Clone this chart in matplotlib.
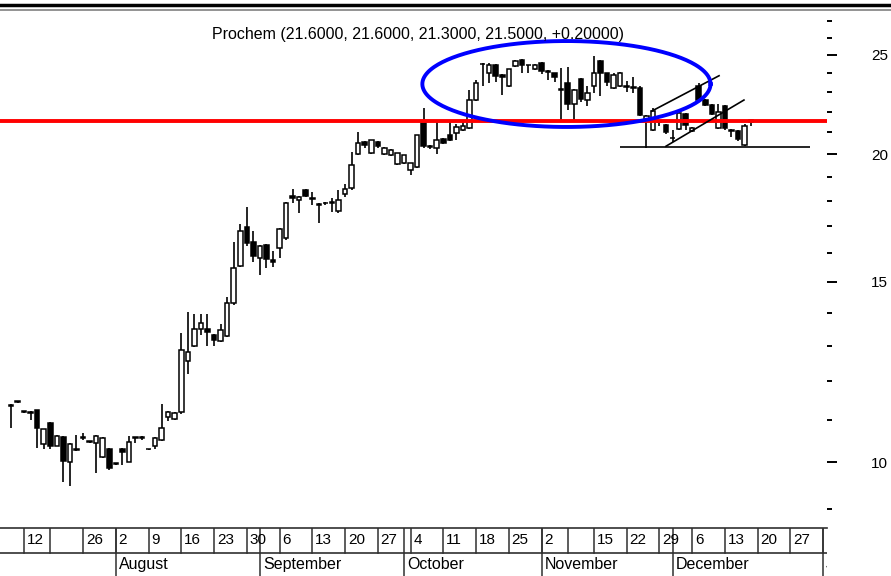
import numpy as np
import pandas as pd
import matplotlib
matplotlib.use("Agg")
import matplotlib.pyplot as plt
from matplotlib.ticker import FixedLocator, FixedFormatter, NullFormatter
from matplotlib.lines import Line2D

plt.rcParams['font.family'] = ['Liberation Sans', 'DejaVu Sans']

# -------------------------------
# 1. Data (Prochem daily OHLC, Jul 8 - Dec 17 2004)
# -------------------------------
first_day = '2004-07-08'
no_session = ['2004-07-16', '2004-11-01', '2004-11-11']

opens = [
    11.35, 11.45, 11.2, 11.2, 11.24, 10.41, 10.93, 10.38, 10.58, 10.0,
    10.3, 10.55, 10.47, 10.43, 10.12, 10.31, 9.98, 10.31, 10.01, 10.55,
    10.55, 10.3, 10.36, 10.5, 11.06, 11.03, 11.2, 12.55, 12.99, 13.5,
    13.5, 13.32, 13.13, 13.27, 14.3, 15.55, 16.97, 16.4, 15.83, 16.29,
    15.76, 16.18, 16.55, 18.22, 18.04, 18.43, 18.1, 17.87, 17.9, 17.95,
    17.6, 18.3, 18.52, 20.0, 20.55, 20.05, 20.57, 20.0, 19.96, 19.55,
    19.6, 19.3, 19.45, 21.5, 20.35, 20.3, 20.7, 20.87, 20.98, 21.1,
    21.2, 22.6, 24.5, 24.0, 24.45, 23.9, 23.3, 24.4, 24.72, 24.45,
    24.2, 24.55, 24.1, 24.0, 23.15, 23.45, 22.4, 23.7, 22.6, 23.3,
    24.67, 24.0, 23.2, 23.3, 23.3, 23.25, 23.2, 21.55, 21.1, 21.5,
    21.35, 20.75, 21.15, 21.9, 21.05, 23.3, 22.6, 22.35, 21.2, 22.3,
    21.1, 21.05, 20.4, 21.6]

highs = [
    11.4, 11.48, 11.22, 11.22, 11.25, 10.78, 10.95, 10.62, 10.6, 10.44,
    10.63, 10.68, 10.48, 10.62, 10.57, 10.33, 9.99, 10.33, 10.6, 10.56,
    10.6, 10.31, 10.58, 11.4, 11.22, 11.2, 13.36, 14.03, 13.97, 13.97,
    13.95, 13.35, 13.65, 14.5, 16.4, 17.1, 17.74, 16.84, 16.3, 16.32,
    16.1, 16.95, 17.95, 18.5, 18.2, 18.5, 18.35, 17.9, 17.95, 18.1,
    18.44, 18.72, 20.1, 21.0, 20.6, 20.66, 20.6, 20.32, 20.22, 20.07,
    19.96, 19.62, 20.9, 22.2, 20.4, 21.6, 20.75, 21.55, 21.4, 21.5,
    23.1, 23.63, 24.55, 24.55, 24.5, 23.95, 24.25, 24.7, 24.8, 24.47,
    24.5, 24.6, 24.15, 24.02, 24.3, 24.35, 23.15, 23.75, 23.3, 24.95,
    24.7, 24.02, 24.0, 24.05, 23.6, 23.8, 23.3, 21.85, 22.2, 21.6,
    21.4, 21.1, 22.05, 21.95, 21.25, 23.45, 22.65, 22.4, 22.4, 22.35,
    21.15, 21.1, 21.4, 21.6]

lows = [
    10.8, 11.42, 11.18, 10.99, 10.32, 10.3, 10.3, 10.36, 9.56, 9.48,
    10.25, 10.5, 10.44, 9.76, 10.1, 9.82, 9.94, 9.94, 10.0, 10.45,
    10.5, 10.27, 10.29, 10.48, 10.96, 11.0, 11.15, 12.2, 12.97, 13.3,
    13.0, 13.0, 13.1, 13.25, 14.25, 15.5, 16.25, 15.7, 15.23, 15.47,
    15.52, 15.82, 16.5, 17.9, 17.5, 18.15, 17.83, 17.14, 17.85, 17.57,
    17.5, 18.17, 18.45, 19.95, 20.3, 20.0, 20.3, 19.98, 19.9, 19.5,
    19.55, 19.1, 19.4, 20.3, 20.25, 20.0, 20.45, 20.6, 20.64, 21.05,
    21.15, 22.55, 23.3, 23.45, 23.55, 22.85, 23.25, 24.35, 24.0, 24.0,
    24.15, 23.95, 23.63, 23.5, 21.6, 22.1, 21.6, 22.5, 22.3, 22.95,
    22.8, 23.3, 23.15, 23.25, 23.0, 22.95, 21.8, 20.3, 21.05, 21.3,
    20.95, 20.55, 21.1, 21.1, 21.0, 22.55, 22.3, 21.85, 21.15, 21.1,
    20.8, 20.6, 20.35, 21.3]

closes = [
    11.38, 11.46, 11.2, 11.18, 10.8, 10.77, 10.37, 10.6, 10.03, 10.42,
    10.28, 10.57, 10.46, 10.6, 10.56, 9.86, 9.96, 10.22, 10.46, 10.55,
    10.56, 10.29, 10.56, 10.8, 11.2, 11.18, 12.87, 12.82, 13.5, 13.68,
    13.41, 13.15, 13.47, 14.3, 15.49, 16.84, 16.37, 15.89, 16.26, 15.8,
    15.7, 16.9, 17.9, 18.1, 18.18, 18.22, 18.08, 17.85, 17.93, 17.93,
    18.05, 18.5, 19.5, 20.5, 20.4, 20.64, 20.35, 20.3, 20.2, 20.05,
    19.94, 19.6, 20.87, 20.35, 20.33, 20.64, 20.5, 20.67, 21.24, 21.3,
    22.6, 23.45, 24.5, 24.45, 23.85, 23.8, 24.2, 24.65, 24.44, 24.44,
    24.45, 24.1, 24.08, 23.8, 23.12, 22.4, 23.1, 22.65, 22.95, 24.0,
    24.0, 23.5, 23.9, 24.0, 23.28, 23.22, 21.85, 21.8, 22.05, 21.48,
    21.0, 20.73, 21.95, 21.35, 21.23, 22.6, 22.35, 21.9, 22.0, 21.2,
    21.08, 20.7, 21.3, 21.5]

# axis labels
week_dates = ['2004-07-12', '2004-07-19', '2004-07-26', '2004-08-02', '2004-08-09',
              '2004-08-16', '2004-08-23', '2004-08-30', '2004-09-06', '2004-09-13',
              '2004-09-20', '2004-09-27', '2004-10-04', '2004-10-11', '2004-10-18',
              '2004-10-25', '2004-11-02', '2004-11-08', '2004-11-15', '2004-11-22',
              '2004-11-29', '2004-12-06', '2004-12-13', '2004-12-20', '2004-12-27',
              '2005-01-03']
week_text = ['12', '', '26', '2', '9', '16', '23', '30', '6', '13', '20', '27', '4',
             '11', '18', '25', '2', '', '15', '22', '29', '6', '13', '20', '27', '3']
month_dates = ['2004-08-02', '2004-09-01', '2004-10-01',
               '2004-11-02', '2004-12-01', '2005-01-03']
month_text = ['August', 'September', 'October', 'November', 'December', 'January']

title = 'Prochem (21.6000, 21.6000, 21.3000, 21.5000, +0.20000)'

# annotations drawn on the chart (candle index, price)
resistance = 21.55
support = ([93, 122], 20.33)
channel_upper = ([97.8, 108.1], [22.03, 23.86])
channel_lower = ([100.0, 111.9], [20.36, 22.59])
ellipse_center = (84.8, 23.42)
ellipse_half_width = 22.0      # in trading days
ellipse_half_height = 0.042    # in log10 price

# -------------------------------
# 2. Trading calendar
# -------------------------------
days = pd.bdate_range('2004-07-01', '2005-01-14')
days = days[~days.isin(pd.to_datetime(no_session))]
pos = {d: i for i, d in enumerate(days)}
x0 = pos[pd.Timestamp(first_day)]
xs = np.arange(len(opens)) + x0

# -------------------------------
# 3. Figure
# -------------------------------
W, H = 891, 576
fig = plt.figure(figsize=(W / 100, H / 100), dpi=100)
ax = fig.add_axes([0, 48 / H, 827 / W, 516 / H])
ax.set_yscale('log')
ax.set_xlim(x0 - 11 / 6.55, x0 - 11 / 6.55 + 827 / 6.55)
ax.set_ylim(8.622, 27.54)
for s in ax.spines.values():
    s.set_visible(False)
ax.set_xticks([])

# candles
o = np.array(opens); c = np.array(closes)
up = c >= o
ax.vlines(xs, lows, highs, color='black', lw=1.2, zorder=2)
bottom = np.minimum(o, c)
height = np.maximum(np.abs(c - o), 0.02)
ax.bar(xs[up], height[up], bottom=bottom[up], width=0.7, color='white',
       edgecolor='black', linewidth=1.1, zorder=3)
ax.bar(xs[~up], height[~up], bottom=bottom[~up], width=0.7, color='black',
       edgecolor='black', linewidth=1.1, zorder=3)

# annotations
ax.axhline(resistance, color='#ff0000', lw=2.8, zorder=4)
ax.hlines(support[1], support[0][0] + x0, support[0][1] + x0, color='black', lw=1.2, zorder=4)
ax.plot(np.array(channel_upper[0]) + x0, channel_upper[1], color='black', lw=1.2, zorder=4)
ax.plot(np.array(channel_lower[0]) + x0, channel_lower[1], color='black', lw=1.2, zorder=4)
t = np.linspace(0, 2 * np.pi, 300)
ex = ellipse_center[0] + x0 + ellipse_half_width * np.cos(t)
ey = 10 ** (np.log10(ellipse_center[1]) + ellipse_half_height * np.sin(t))
ax.plot(ex, ey, color='#0000ff', lw=2.8, zorder=5)

# price axis on the right
ax.yaxis.tick_right()
ax.yaxis.set_major_locator(FixedLocator([10, 15, 20, 25]))
ax.yaxis.set_major_formatter(FixedFormatter(['10', '15', '20', '25']))
ax.yaxis.set_minor_locator(FixedLocator([v for v in range(9, 28) if v not in (10, 15, 20, 25)]))
ax.yaxis.set_minor_formatter(NullFormatter())
ax.tick_params(axis='y', which='major', length=7.5, width=1.4, pad=24, labelsize=11)
ax.tick_params(axis='y', which='minor', length=3.8, width=1.4)

fig.text(417.5 / W, 1 - 35 / H, title, ha='center', va='center', fontsize=11.5)

# top border
fig.add_artist(Line2D([0, 1], [1 - 5 / H, 1 - 5 / H], color='black', lw=2.5))
fig.add_artist(Line2D([0, 1], [1 - 10 / H, 1 - 10 / H], color='#808080', lw=1.2))

# -------------------------------
# 4. Date axis (weeks / months)
# -------------------------------
ax2 = fig.add_axes([0, 0, 827 / W, 48 / H])
ax2.set_xlim(ax.get_xlim())
ax2.set_ylim(0, 1)
ax2.axis('off')
mid = 23 / 48
ax2.axhline(1, color='#303030', lw=1.2, clip_on=False)
ax2.axhline(mid, color='#303030', lw=1.2)
for d, txt in zip(week_dates, week_text):
    p = pos[pd.Timestamp(d)]
    ax2.plot([p, p], [mid, 1], color='#303030', lw=1.1)
    ax2.text(p + 0.45, 0.75, txt, ha='left', va='center', fontsize=11, clip_on=True)
for d, txt in zip(month_dates, month_text):
    p = pos[pd.Timestamp(d)]
    ax2.plot([p, p], [0, 1], color='#303030', lw=1.1)
    ax2.text(p + 0.45, 0.23, txt, ha='left', va='center', fontsize=11.5, clip_on=True)

fig.savefig('out.png', dpi=100)
